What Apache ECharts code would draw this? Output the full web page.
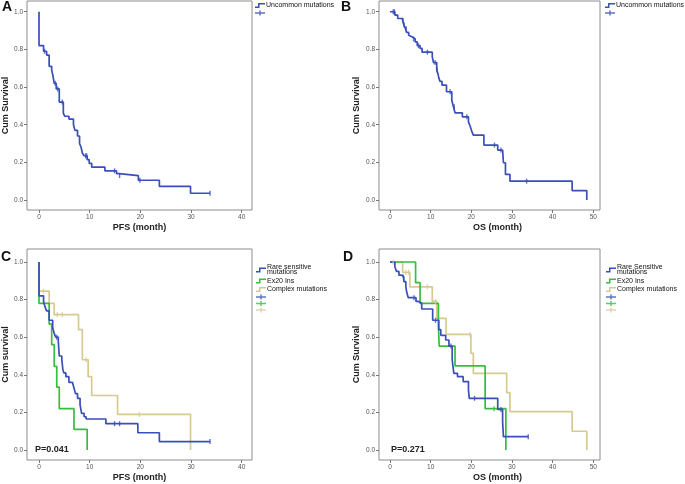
<!DOCTYPE html>
<html><head><meta charset="utf-8">
<script src="https://cdn.jsdelivr.net/npm/echarts@6/dist/echarts.min.js"></script>
<style>html,body{margin:0;padding:0;background:#fff}#c{width:685px;height:484px}</style>
</head><body><div id="c"></div>
<script>
// ---- tick labels ----
const xTicksPFS = [0, 10, 20, 30, 40];
const xTicksOS = [0, 10, 20, 30, 40, 50];
const yTicks = [0, 0.2, 0.4, 0.6, 0.8, 1.0];

// ---- A: PFS, uncommon mutations ----
const aTime = [0, 0.9, 1.5, 2.0, 2.5, 2.75, 3.0, 3.4, 4.0, 4.8, 5.1, 5.9, 6.8, 7.1, 7.6, 8.0, 8.3, 8.55, 8.9, 9.5, 9.9, 10.4, 13.0, 15.3, 15.8, 19.6, 23.75, 29.9];
const aSurv = [0.82, 0.79, 0.77, 0.71, 0.69, 0.66, 0.62, 0.59, 0.52, 0.46, 0.445, 0.43, 0.40, 0.37, 0.34, 0.30, 0.28, 0.25, 0.235, 0.215, 0.195, 0.175, 0.155, 0.14, 0.13, 0.105, 0.072, 0.036];
const aEnd = 33.75;
const aCens = [1.1, 3.2, 3.7, 4.6, 9.2, 9.4, 14.9, 15.9, 19.9, 33.75];

// ---- B: OS, uncommon mutations ----
const bTime = [1.2, 1.9, 3.0, 3.4, 3.8, 4.1, 4.6, 5.0, 5.6, 6.2, 6.7, 7.4, 7.9, 10.4, 10.7, 11.5, 11.8, 12.0, 12.3, 12.8, 13.9, 15.2, 15.6, 16.0, 17.8, 19.3, 19.7, 20.1, 20.5, 23.1, 26.5, 27.7, 27.9, 28.4, 29.5, 44.8, 48.4];
const bSurv = [0.982, 0.964, 0.955, 0.93, 0.91, 0.89, 0.875, 0.865, 0.855, 0.84, 0.82, 0.805, 0.785, 0.76, 0.73, 0.69, 0.67, 0.65, 0.63, 0.61, 0.575, 0.53, 0.495, 0.463, 0.442, 0.415, 0.393, 0.366, 0.345, 0.292, 0.265, 0.257, 0.198, 0.136, 0.10, 0.05, 0.0];
const bEnd = 48.4;
const bCens = [0.8, 1.1, 3.2, 3.5, 4.0, 5.8, 7.0, 9.2, 11.1, 11.6, 14.8, 15.8, 18.9, 25.7, 27.3, 33.6];

// ---- C: PFS by group ----
const cRareTime = [0, 0.9, 1.2, 1.5, 2.0, 2.7, 3.0, 3.3, 3.8, 4.0, 4.5, 4.7, 4.9, 5.3, 5.9, 6.6, 6.9, 7.2, 7.6, 8.1, 8.4, 8.9, 9.3, 13.2, 19.5, 23.75];
const cRareSurv = [0.82, 0.79, 0.76, 0.74, 0.69, 0.65, 0.62, 0.60, 0.58, 0.50, 0.48, 0.43, 0.41, 0.39, 0.36, 0.35, 0.33, 0.30, 0.275, 0.24, 0.195, 0.177, 0.165, 0.14, 0.092, 0.045];
const cRareEnd = 33.75;
const cRareCens = [3.5, 14.9, 15.9, 33.75];
const cExTime = [0, 2.0, 2.5, 3.0, 3.5, 4.0, 6.9, 9.5];
const cExSurv = [0.78, 0.67, 0.56, 0.445, 0.335, 0.22, 0.11, 0.0];
const cExEnd = 9.5;
const cExCens = [];
const cCxTime = [0, 2.0, 3.0, 7.8, 8.55, 9.7, 10.4, 15.5, 29.9];
const cCxSurv = [0.845, 0.78, 0.72, 0.64, 0.48, 0.39, 0.29, 0.19, 0.0];
const cCxEnd = 29.9;
const cCxCens = [0.9, 3.6, 4.6, 9.3, 19.8];

// ---- D: OS by group ----
const dRareTime = [1.2, 1.6, 2.2, 2.9, 3.4, 3.9, 4.1, 4.5, 6.4, 7.0, 7.8, 10.5, 12.0, 12.5, 13.7, 14.5, 15.3, 15.7, 16.6, 18.0, 19.3, 19.5, 26.5, 27.7, 27.9];
const dRareSurv = [0.975, 0.95, 0.93, 0.92, 0.895, 0.87, 0.84, 0.81, 0.79, 0.78, 0.75, 0.69, 0.64, 0.61, 0.585, 0.553, 0.48, 0.408, 0.39, 0.364, 0.32, 0.275, 0.216, 0.15, 0.071];
const dRareEnd = 34.0;
const dRareCens = [3.3, 5.9, 11.2, 15.0, 20.8, 27.3, 34.0];
const dExTime = [6.3, 7.4, 11.9, 12.1, 16.0, 23.4, 28.5];
const dExSurv = [0.89, 0.78, 0.668, 0.553, 0.447, 0.22, 0.0];
const dExEnd = 28.5;
const dExCens = [25.6];
const dCxTime = [3.1, 4.9, 10.4, 11.5, 13.8, 19.9, 20.5, 28.7, 29.5, 44.8, 48.4];
const dCxSurv = [0.945, 0.868, 0.79, 0.70, 0.615, 0.514, 0.408, 0.305, 0.204, 0.10, 0.0];
const dCxEnd = 48.4;
const dCxCens = [0.8, 3.9, 4.6, 9.2, 11.2, 19.7];

const pC = 'P=0.041';
const pD = 'P=0.271';

// ---- styles ----
const BLUE = '#3a4fb8', GREEN = '#36be40', TAN = '#d6ca92';
const FONT = 'Liberation Sans, Arial, sans-serif';
const STEP = 'path://M0,7L6,7L6,0L20,0L20,3L9,3L9,10L0,10Z';
const PLUS = 'path://M0,3.5L20,3.5L20,6.5L0,6.5ZM8.5,0L11.5,0L11.5,10L8.5,10Z';

function kmData(times, survs, end) {
  const d = [[0, 1]];
  for (let i = 0; i < times.length; i++) d.push([times[i], survs[i]]);
  const last = d[d.length - 1];
  if (end > last[0]) d.push([end, last[1]]);
  return d;
}
function survAt(times, survs, t) {
  let s = 1;
  for (let i = 0; i < times.length; i++) if (times[i] <= t) s = survs[i];
  return s;
}
function censData(times, survs, cens) {
  return cens.map(t => [t, survAt(times, survs, t)]);
}
function lineS(name, idx, times, survs, end, color) {
  return {name, type: 'line', step: 'end', xAxisIndex: idx, yAxisIndex: idx,
    data: kmData(times, survs, end), symbol: 'none', showSymbol: false,
    lineStyle: {width: 1.7, color}, itemStyle: {color}, z: 3, animation: false};
}
function censS(name, idx, times, survs, cens, color) {
  return {name, type: 'scatter', xAxisIndex: idx, yAxisIndex: idx,
    data: censData(times, survs, cens), symbol: 'rect', symbolSize: [1.4, 5],
    itemStyle: {color}, z: 4, animation: false};
}

const grids = [
  {left: 27, top: 1, width: 225, height: 209},
  {left: 379, top: 1, width: 221, height: 209},
  {left: 27, top: 249, width: 225, height: 211},
  {left: 379, top: 249, width: 221, height: 211}
].map(g => Object.assign({show: true, borderColor: '#8c8c8c', borderWidth: 1, backgroundColor: '#fff'}, g));

const labelStyle = {fontSize: 6.5, color: '#555', fontFamily: FONT};
const nameStyle = {fontSize: 9, fontWeight: 'bold', color: '#222', fontFamily: FONT};

function xAx(idx, min, max, ticks, name, shift) {
  return {gridIndex: idx, type: 'value', min, max, name, nameLocation: 'middle', nameGap: 13,
    nameTextStyle: Object.assign({padding: [0, 0, 0, shift]}, nameStyle),
    axisLine: {show: false, onZero: false}, splitLine: {show: false},
    axisTick: {show: true, inside: false, length: 3, customValues: ticks, lineStyle: {color: '#777'}},
    axisLabel: Object.assign({customValues: ticks, margin: 4}, labelStyle)};
}
function yAx(idx, min, max, name, gap) {
  return {gridIndex: idx, type: 'value', min, max, name, nameLocation: 'middle', nameGap: gap,
    nameTextStyle: nameStyle,
    axisLine: {show: false, onZero: false}, splitLine: {show: false},
    axisTick: {show: true, inside: false, length: 3, customValues: yTicks, lineStyle: {color: '#777'}},
    axisLabel: Object.assign({customValues: yTicks, margin: 4, formatter: v => v.toFixed(1)}, labelStyle)};
}

const legendCommon = {orient: 'vertical', itemWidth: 10, itemHeight: 5, itemGap: 1.5, padding: 0,
  selectedMode: false, itemStyle: {borderWidth: 0},
  textStyle: {fontSize: 7, lineHeight: 5, color: '#111', fontFamily: FONT, padding: [0, 0, 0, -4]},
  formatter: n => n.endsWith('+') ? '' : n.replace(/(sensitive|Sensitive) mutations/, '$1\nmutations')};

const option = {
  backgroundColor: '#fff',
  animation: false,
  grid: grids,
  xAxis: [
    xAx(0, -2.37, 42.03, xTicksPFS, 'PFS (month)', 0),
    xAx(1, -2.70, 51.65, xTicksOS, 'OS (month)', 16),
    xAx(2, -2.37, 42.03, xTicksPFS, 'PFS (month)', 0),
    xAx(3, -2.70, 51.65, xTicksOS, 'OS (month)', 16)
  ],
  yAxis: [
    yAx(0, -0.053, 1.057, 'Cum Survival', 16),
    yAx(1, -0.053, 1.057, 'Cum Survival', 17.5),
    yAx(2, -0.053, 1.069, 'Cum survival', 16),
    yAx(3, -0.053, 1.069, 'Cum Survival', 17.5)
  ],
  title: [
    {text: 'A', left: 2, top: 0, padding: 0, textStyle: {fontSize: 14, fontWeight: 'bold', color: '#111', fontFamily: FONT}},
    {text: 'B', left: 341, top: 0, padding: 0, textStyle: {fontSize: 14, fontWeight: 'bold', color: '#111', fontFamily: FONT}},
    {text: 'C', left: 1, top: 250, padding: 0, textStyle: {fontSize: 14, fontWeight: 'bold', color: '#111', fontFamily: FONT}},
    {text: 'D', left: 343, top: 250, padding: 0, textStyle: {fontSize: 14, fontWeight: 'bold', color: '#111', fontFamily: FONT}},
    {text: pC, left: 35, top: 445, padding: 0, textStyle: {fontSize: 9, fontWeight: 'bold', color: '#222', fontFamily: FONT}},
    {text: pD, left: 391, top: 445, padding: 0, textStyle: {fontSize: 9, fontWeight: 'bold', color: '#222', fontFamily: FONT}}
  ],
  legend: [
    Object.assign({left: 255, top: 2, data: [{name: 'Uncommon mutations', icon: STEP}, {name: 'A+', icon: PLUS}]}, legendCommon),
    Object.assign({left: 605, top: 2, data: [{name: 'Uncommon mutations', icon: STEP}, {name: 'B+', icon: PLUS}]}, legendCommon),
    Object.assign({left: 256, top: 264, data: [
      {name: 'Rare sensitive mutations', icon: STEP}, {name: 'Ex20 Ins', icon: STEP}, {name: 'Complex mutations', icon: STEP},
      {name: 'C1+', icon: PLUS}, {name: 'C2+', icon: PLUS}, {name: 'C3+', icon: PLUS}]}, legendCommon),
    Object.assign({left: 606, top: 264, data: [
      {name: 'Rare Sensitive mutations', icon: STEP}, {name: 'Ex20 Ins', icon: STEP}, {name: 'Complex mutations', icon: STEP},
      {name: 'D1+', icon: PLUS}, {name: 'D2+', icon: PLUS}, {name: 'D3+', icon: PLUS}]}, legendCommon)
  ],
  series: [
    lineS('Uncommon mutations', 0, aTime, aSurv, aEnd, BLUE),
    censS('A+', 0, aTime, aSurv, aCens, BLUE),
    lineS('Uncommon mutations', 1, bTime, bSurv, bEnd, BLUE),
    censS('B+', 1, bTime, bSurv, bCens, BLUE),

    lineS('Complex mutations', 2, cCxTime, cCxSurv, cCxEnd, TAN),
    lineS('Ex20 Ins', 2, cExTime, cExSurv, cExEnd, GREEN),
    lineS('Rare sensitive mutations', 2, cRareTime, cRareSurv, cRareEnd, BLUE),
    censS('C1+', 2, cRareTime, cRareSurv, cRareCens, BLUE),
    censS('C2+', 2, cExTime, cExSurv, cExCens, GREEN),
    censS('C3+', 2, cCxTime, cCxSurv, cCxCens, TAN),

    lineS('Complex mutations', 3, dCxTime, dCxSurv, dCxEnd, TAN),
    lineS('Ex20 Ins', 3, dExTime, dExSurv, dExEnd, GREEN),
    lineS('Rare Sensitive mutations', 3, dRareTime, dRareSurv, dRareEnd, BLUE),
    censS('D1+', 3, dRareTime, dRareSurv, dRareCens, BLUE),
    censS('D2+', 3, dExTime, dExSurv, dExCens, GREEN),
    censS('D3+', 3, dCxTime, dCxSurv, dCxCens, TAN)
  ]
};
const chart = echarts.init(document.getElementById('c'), null, {renderer: 'canvas'});
chart.setOption(option);
</script></body></html>
